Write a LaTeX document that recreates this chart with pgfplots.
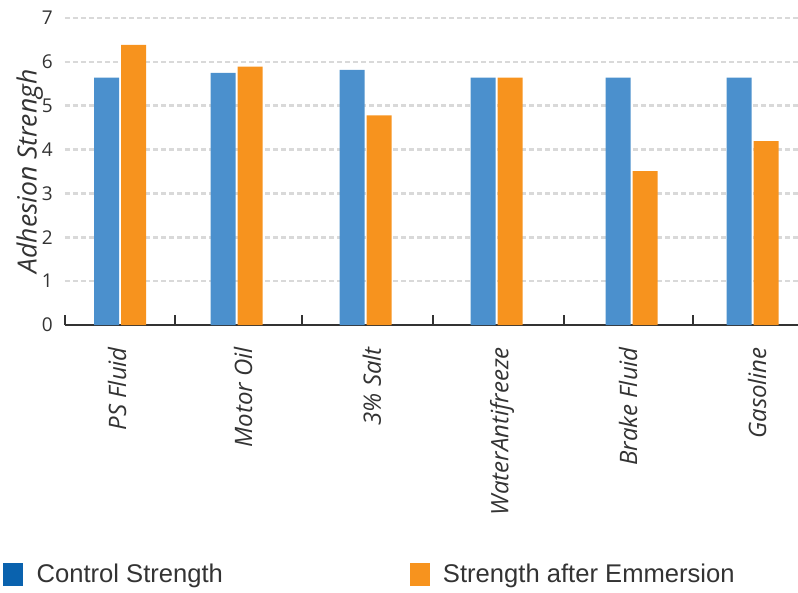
\documentclass[border=0pt]{standalone}
\usepackage{fontspec}
\setmainfont{Open Sans}
\newfontfamily\legendfont{Liberation Sans}
\usepackage{pgfplots}
\pgfplotsset{compat=1.18}

\definecolor{barblue}{HTML}{4B90CD}
\definecolor{barorange}{HTML}{F7931E}
\definecolor{legblue}{HTML}{0A62AE}
\definecolor{gridgray}{HTML}{D9D9D9}
\definecolor{textgray}{HTML}{333333}

\pgfplotsset{
  sqlegend/.style={legend image code/.code={\fill[##1] (0pt,-11pt) rectangle (19pt,11pt);}},
}

\begin{document}
\begin{tikzpicture}
\useasboundingbox (0,0) rectangle (798pt,592pt);
\begin{axis}[
  at={(65pt,267pt)}, anchor=south west,
  scale only axis, width=733pt, height=307pt,
  xmin=65, xmax=798, ymin=0, ymax=7,
  axis x line*=bottom, axis y line*=left,
  y axis line style={draw=none},
  x axis line style={line width=1.6pt, color=black!80, -},
  ytick={0,1,...,7},
  ytick style={draw=none},
  ymajorgrids,
  major grid style={line width=2.5pt, color=gridgray, dash pattern=on 5pt off 3pt},
  /pgf/number format/assume math mode=true,
  yticklabel style={font=\fontsize{19}{22}\selectfont, text=textgray, inner sep=0pt, xshift=-12pt},
  xtick={117,243,372,502,628,757},
  xticklabels={PS Fluid, Motor Oil, 3\% Salt, WaterAntifreeze, Brake Fluid, Gasoline},
  xtick style={draw=none},
  xticklabel style={rotate=90, anchor=east, inner sep=0pt, font=\itshape\fontsize{24}{28}\selectfont, text=textgray},
  xticklabel shift=22pt,
  extra x ticks={65,175,302,433,564,693},
  extra x tick labels={},
  extra x tick style={tick align=inside, major tick length=10pt,
    xtick style={draw=black!80, line width=1.6pt}},
  ylabel={Adhesion Strengh},
  ylabel style={at={(axis description cs:-0.048,0.5)}, anchor=center, rotate=0,
    font=\itshape\fontsize{26.5}{30}\selectfont, text=textgray},
  legend style={at={(axis description cs:-0.0887,-0.811)}, anchor=west,
    draw=none, fill=none, legend columns=2,
    font=\legendfont\fontsize{25.6}{30}\selectfont, text=textgray,
    nodes={inner sep=0pt},
    /tikz/every even column/.append style={column sep=0pt}},
  legend cell align=left,
]
% control specimens
\addplot[forget plot, ybar, bar width=25, bar shift=-13.5, fill=barblue, draw=none]
  coordinates {(120,5.64) (236.5,5.75) (365.5,5.82) (496.5,5.64) (631.5,5.64) (752.5,5.64)};
% specimens after immersion
\addplot[forget plot, ybar, bar width=25, bar shift=13.5, fill=barorange, draw=none]
  coordinates {(120,6.39) (236.5,5.89) (365.5,4.78) (496.5,5.64) (631.5,3.51) (752.5,4.19)};

\addlegendimage{sqlegend, legblue}
\addlegendentry{\hspace{14pt}\makebox[373pt][l]{Control Strength}}
\addlegendimage{sqlegend, barorange}
\addlegendentry{\hspace{14pt}Strength after Emmersion}
\end{axis}
\end{tikzpicture}
\end{document}
